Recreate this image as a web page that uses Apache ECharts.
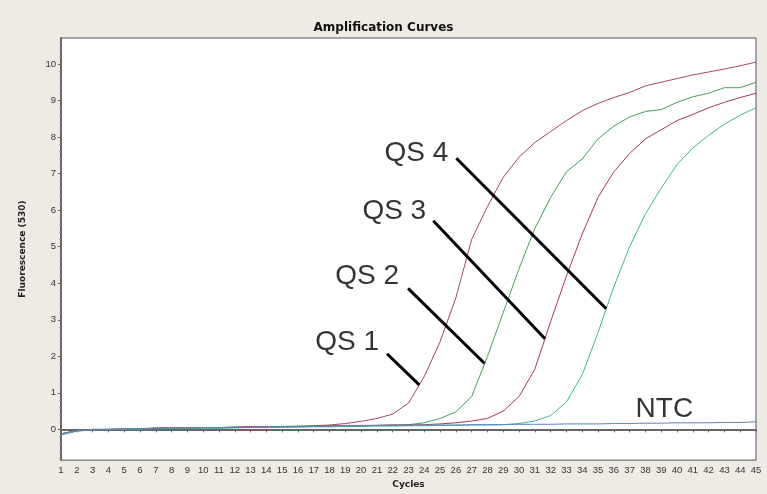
<!DOCTYPE html>
<html>
<head>
<meta charset="utf-8">
<title>Amplification Curves</title>
<script src="https://cdn.jsdelivr.net/npm/echarts@6/dist/echarts.min.js"></script>
<style>
  html, body { margin: 0; padding: 0; background: #eeebe5; }
  #chart { width: 767px; height: 494px; }
</style>
</head>
<body>
<div id="chart"></div>
<script>
// Cycle numbers on the x axis
const cycles = [1,2,3,4,5,6,7,8,9,10,11,12,13,14,15,16,17,18,19,20,21,22,23,24,25,26,27,28,29,30,31,32,33,34,35,36,37,38,39,40,41,42,43,44,45];

// Fluorescence (530) readings per cycle
const qs1 = [-0.14,-0.03,0.00,0.00,0.01,0.02,0.04,0.04,0.04,0.05,0.05,0.06,0.08,0.08,0.08,0.09,0.10,0.12,0.16,0.22,0.30,0.42,0.72,1.45,2.40,3.60,5.20,6.10,6.90,7.45,7.85,8.15,8.45,8.72,8.92,9.08,9.22,9.40,9.50,9.60,9.70,9.78,9.86,9.95,10.05];
const qs2 = [-0.12,-0.03,0.00,0.00,0.01,0.02,0.03,0.03,0.02,0.04,0.04,0.05,0.06,0.06,0.07,0.07,0.08,0.09,0.09,0.10,0.11,0.12,0.13,0.18,0.30,0.48,0.90,2.00,3.20,4.40,5.50,6.35,7.05,7.40,7.95,8.30,8.55,8.70,8.75,8.95,9.10,9.20,9.35,9.35,9.50];
const qs3 = [-0.12,-0.03,0.00,0.00,0.01,0.02,0.03,0.04,0.04,0.05,0.05,0.06,0.07,0.07,0.08,0.08,0.09,0.10,0.10,0.11,0.11,0.12,0.12,0.13,0.15,0.18,0.23,0.30,0.50,0.90,1.65,2.95,4.20,5.35,6.35,7.05,7.55,7.95,8.20,8.45,8.62,8.80,8.95,9.08,9.20];
const qs4 = [-0.13,-0.04,-0.01,0.00,0.00,0.01,0.02,0.03,0.02,0.03,0.03,0.04,0.05,0.05,0.06,0.06,0.07,0.07,0.08,0.08,0.09,0.09,0.10,0.10,0.11,0.11,0.12,0.12,0.13,0.16,0.23,0.38,0.75,1.50,2.65,3.90,5.00,5.90,6.60,7.25,7.70,8.05,8.35,8.60,8.80];
const ntc = [-0.15,-0.05,-0.01,0.00,0.01,0.02,0.03,0.04,0.04,0.05,0.05,0.06,0.06,0.07,0.07,0.08,0.08,0.09,0.10,0.10,0.11,0.11,0.11,0.12,0.12,0.12,0.13,0.13,0.13,0.14,0.14,0.14,0.15,0.15,0.15,0.16,0.16,0.17,0.17,0.18,0.18,0.18,0.19,0.19,0.21];

// Axis tick labels
const xTicks = cycles;
const yTicks = [0,1,2,3,4,5,6,7,8,9,10];
const yMinorTicks = [];
for (let i = -4; i <= 53; i++) { if (i % 5 !== 0) yMinorTicks.push(+(i * 0.2).toFixed(1)); }

// Callouts: text, text anchor [cycle, value], leader start [cycle, value], target cycle on its curve
const calloutNames  = ['QS 1', 'QS 2', 'QS 3', 'QS 4'];
const calloutCurves = [qs1, qs2, qs3, qs4];
const calloutText   = [[21.13, 2.39], [22.40, 4.18], [24.12, 5.98], [25.52, 7.55]];
const calloutStart  = [[21.64, 2.07], [22.97, 3.86], [24.57, 5.71], [26.03, 7.42]];
const calloutTarget = [23.68, 27.82, 31.64, 35.52];
const ntcText = [39.2, 0.54];

function valueAt(curve, c) {
  const i = Math.floor(c) - 1;
  const f = c - Math.floor(c);
  return curve[i] + (curve[i + 1] - curve[i]) * f;
}

function pairs(values) {
  return values.map((v, i) => [cycles[i], v]);
}

const FONT = 'Liberation Sans';
const chart = echarts.init(document.getElementById('chart'), null, { renderer: 'canvas' });

const curveStyle = (color) => ({
  type: 'line', showSymbol: false, symbol: 'none', smooth: false,
  lineStyle: { width: 1, color: color }, itemStyle: { color: color },
  silent: true, z: 2
});

chart.setOption({
  animation: false,
  backgroundColor: '#eeebe5',
  title: {
    text: 'Amplification Curves',
    left: 'center', top: 17,
    textStyle: { fontFamily: 'DejaVu Sans', fontWeight: 'bold', fontSize: 12, color: '#111' }
  },
  grid: {
    left: 61, right: 11, top: 38, bottom: 31,
    show: true, backgroundColor: '#ffffff', borderColor: '#555', borderWidth: 1
  },
  xAxis: {
    type: 'value', min: 1, max: 45,
    name: 'Cycles', nameLocation: 'middle', nameGap: 15,
    nameTextStyle: { fontFamily: 'DejaVu Sans', fontWeight: 'bold', fontSize: 9, color: '#222' },
    axisLine: { show: true, lineStyle: { color: '#666', width: 2 } },
    axisTick: { show: true, inside: false, length: 3, customValues: xTicks, lineStyle: { color: '#666' } },
    axisLabel: { customValues: xTicks, margin: 5, fontFamily: FONT, fontSize: 9.5, color: '#333', showMinLabel: true, showMaxLabel: true },
    splitLine: { show: false }
  },
  yAxis: [{
    type: 'value', min: -0.84, max: 10.71,
    name: 'Fluorescence (530)', nameLocation: 'middle', nameGap: 34, nameRotate: 90,
    nameTextStyle: { fontFamily: 'DejaVu Sans', fontWeight: 'bold', fontSize: 9, color: '#222' },
    axisLine: { show: true, lineStyle: { color: '#666', width: 2 } },
    axisTick: { show: true, length: 3, customValues: yTicks, lineStyle: { color: '#666' } },
    axisLabel: { customValues: yTicks, margin: 5, fontFamily: FONT, fontSize: 9.5, color: '#333' },
    splitLine: { show: false }
  }, {
    type: 'value', min: -0.84, max: 10.71, position: 'left',
    axisLine: { show: false },
    axisTick: { show: true, length: 2, customValues: yMinorTicks, lineStyle: { color: '#999' } },
    axisLabel: { show: false },
    splitLine: { show: false }
  }],
  series: [
    Object.assign(curveStyle('#a2465f'), { name: 'QS 1', data: pairs(qs1) }),
    Object.assign(curveStyle('#45a05a'), { name: 'QS 2', data: pairs(qs2) }),
    Object.assign(curveStyle('#a83a52'), { name: 'QS 3', data: pairs(qs3) }),
    Object.assign(curveStyle('#3fb59c'), { name: 'QS 4', data: pairs(qs4) }),
    Object.assign(curveStyle('#5a86c0'), { name: 'NTC', data: pairs(ntc) }),
    {
      type: 'lines', coordinateSystem: 'cartesian2d', silent: true, z: 5,
      lineStyle: { color: '#000', width: 3, opacity: 1 },
      data: calloutNames.map((n, i) => ({
        coords: [calloutStart[i], [calloutTarget[i], valueAt(calloutCurves[i], calloutTarget[i])]]
      }))
    },
    {
      type: 'scatter', silent: true, z: 6, symbolSize: 0.01,
      itemStyle: { color: 'rgba(0,0,0,0)' },
      label: {
        show: true, formatter: '{b}', position: 'left', distance: 0,
        fontFamily: FONT, fontSize: 28, color: '#000'
      },
      data: calloutNames.map((n, i) => ({ name: n, value: calloutText[i] })).concat([{
        name: 'NTC', value: ntcText,
        label: { position: 'inside' }
      }])
    }
  ]
});
</script>
</body>
</html>
